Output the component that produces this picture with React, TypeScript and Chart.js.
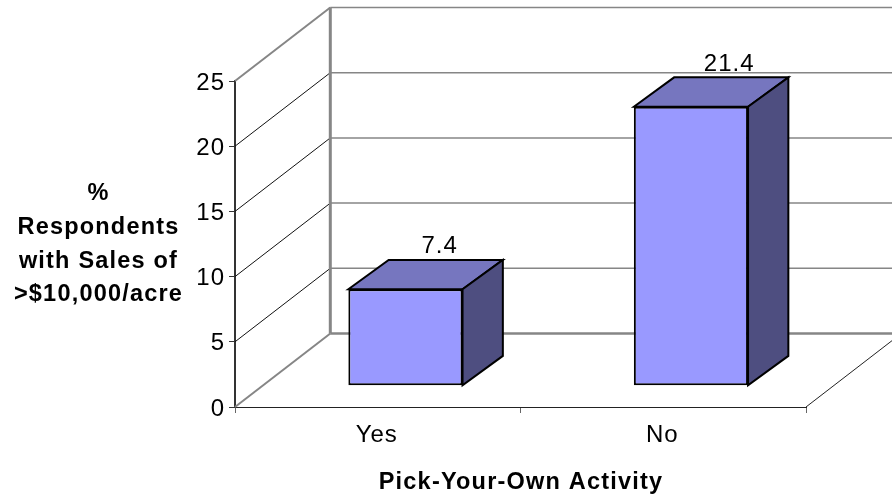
import React, { useEffect, useRef } from "react";
import { Chart, registerables } from "chart.js";

Chart.register(...registerables);

const categories = ["Yes", "No"];
const respondentShare = [7.4, 21.4];
const yAxisTitleLines = ["%", "Respondents", "with Sales of", ">$10,000/acre"];
const xAxisTitle = "Pick-Your-Own Activity";

const FONT_FAMILY = '"Liberation Sans", Arial, sans-serif';
const FACE_FRONT = "#9999ff";
const FACE_TOP = "#7676bf";
const FACE_SIDE = "#4e4e80";
const WALL_GREY = "#868686";

// Full depth of the floor, and where the bars sit within that depth.
const DEPTH_X = 95.3;
const DEPTH_Y = -73.5;
const BAR_OFFSET_X = 27.7;
const BAR_OFFSET_Y = -21.2;
const BAR_DEPTH_X = 40.3;
const BAR_DEPTH_Y = -29.4;

function line(ctx: CanvasRenderingContext2D, x1: number, y1: number, x2: number, y2: number, color: string, width: number) {
  ctx.strokeStyle = color;
  ctx.lineWidth = width;
  ctx.beginPath();
  ctx.moveTo(x1, y1);
  ctx.lineTo(x2, y2);
  ctx.stroke();
}

function face(ctx: CanvasRenderingContext2D, pts: number[][], fill: string) {
  ctx.fillStyle = fill;
  ctx.strokeStyle = "#000";
  ctx.lineWidth = 2;
  ctx.lineJoin = "miter";
  ctx.beginPath();
  pts.forEach(([x, y], i) => (i ? ctx.lineTo(x, y) : ctx.moveTo(x, y)));
  ctx.closePath();
  ctx.fill();
  ctx.stroke();
}

// Tracks out every label on the canvas; the titles widen it a little further.
const trackingPlugin = {
  id: "tracking",
  beforeDraw(chart: any) {
    chart.ctx.letterSpacing = "1px";
  },
};

// Draws the back wall, side wall and floor edge behind the bars.
const wallsPlugin = {
  id: "walls",
  beforeDatasetsDraw(chart: any) {
    const { ctx, chartArea, scales } = chart;
    const { left, right } = chartArea;
    const y = scales.y;
    const backLeft = left + DEPTH_X;
    const backRight = right + DEPTH_X;
    ctx.save();
    y.ticks.forEach((tick: any) => {
      const py = y.getPixelForValue(tick.value);
      const edge = tick.value === 0 || tick.value === y.max;
      line(ctx, left, py, backLeft, py + DEPTH_Y, edge ? WALL_GREY : "#111", edge ? 2 : 1);
      line(ctx, backLeft, py + DEPTH_Y, backRight, py + DEPTH_Y, WALL_GREY, tick.value === 0 ? 2.5 : 1.5);
    });
    const floorY = y.getPixelForValue(0);
    line(ctx, backLeft, y.getPixelForValue(y.max) + DEPTH_Y, backLeft, floorY + DEPTH_Y, WALL_GREY, 3);
    line(ctx, right, floorY, right + DEPTH_X, floorY + DEPTH_Y, "#222", 1);
    ctx.restore();
  },
};

// Moves each bar back onto the floor and adds its top and side faces and value.
const solidBarsPlugin = {
  id: "solidBars",
  beforeDatasetDraw(chart: any) {
    chart.ctx.save();
    chart.ctx.translate(BAR_OFFSET_X, BAR_OFFSET_Y);
  },
  afterDatasetDraw(chart: any, args: any) {
    const { ctx } = chart;
    args.meta.data.forEach((bar: any) => {
      const l = bar.x - bar.width / 2;
      const r = bar.x + bar.width / 2;
      const t = bar.y;
      const b = bar.base;
      face(ctx, [[l, t], [l + BAR_DEPTH_X, t + BAR_DEPTH_Y], [r + BAR_DEPTH_X, t + BAR_DEPTH_Y], [r, t]], FACE_TOP);
      face(ctx, [[r, t], [r + BAR_DEPTH_X, t + BAR_DEPTH_Y], [r + BAR_DEPTH_X, b + BAR_DEPTH_Y], [r, b]], FACE_SIDE);
    });
    args.meta.data.forEach((bar: any, i: number) => {
      const value = respondentShare[i];
      ctx.fillStyle = "#000";
      ctx.font = `24px ${FONT_FAMILY}`;
      ctx.textAlign = "center";
      ctx.textBaseline = "alphabetic";
      // Taller bars carry their value slightly further along the top face.
      ctx.fillText(String(value), bar.x + 32 + value * 0.29, bar.y - 36);
    });
    ctx.restore();
  },
};

// Axis titles are set horizontally in bold.
const axisTitlesPlugin = {
  id: "axisTitles",
  afterDraw(chart: any) {
    const { ctx } = chart;
    ctx.save();
    ctx.fillStyle = "#000";
    ctx.font = `bold 23.5px ${FONT_FAMILY}`;
    ctx.letterSpacing = "1.2px";
    ctx.textAlign = "center";
    ctx.textBaseline = "alphabetic";
    yAxisTitleLines.forEach((text, i) => ctx.fillText(text, 98.5, 200 + i * 33.8));
    ctx.fillText(xAxisTitle, 521, 489);
    ctx.restore();
  },
};

export default function App() {
  const canvasRef = useRef<HTMLCanvasElement | null>(null);

  useEffect(() => {
    const chart = new Chart(canvasRef.current as HTMLCanvasElement, {
      type: "bar",
      data: {
        labels: categories,
        datasets: [
          {
            data: respondentShare,
            backgroundColor: FACE_FRONT,
            borderColor: "#000",
            borderWidth: 2,
            borderSkipped: false,
            categoryPercentage: 1,
            barPercentage: 0.4,
            clip: false,
          } as any,
        ],
      },
      options: {
        animation: false,
        responsive: false,
        layout: { padding: { left: 0, top: 81, right: 86, bottom: 0 } },
        plugins: { legend: { display: false }, tooltip: { enabled: false } },
        scales: {
          y: {
            min: 0,
            max: 25,
            ticks: {
              stepSize: 5,
              color: "#000",
              font: { family: FONT_FAMILY, size: 24 },
              padding: 4,
              labelOffset: 2,
            },
            grid: { drawOnChartArea: false, tickLength: 6, color: "#333" },
            border: { color: "#333", width: 2 },
            afterFit(scale: any) {
              scale.width = 235;
            },
          },
          x: {
            ticks: {
              color: "#000",
              font: { family: FONT_FAMILY, size: 24 },
              padding: 8,
              labelOffset: -1,
            },
            grid: { drawOnChartArea: false, tickLength: 6, color: "#666" },
            border: { color: "#222", width: 1 },
            afterFit(scale: any) {
              scale.height = 89;
            },
          },
        },
      },
      plugins: [trackingPlugin, wallsPlugin, solidBarsPlugin, axisTitlesPlugin],
    });
    return () => chart.destroy();
  }, []);

  return (
    <div style={{ position: "absolute", left: 0, top: 0, width: 892, height: 496, background: "#fff" }}>
      <canvas ref={canvasRef} width={892} height={496} style={{ display: "block" }} />
    </div>
  );
}
